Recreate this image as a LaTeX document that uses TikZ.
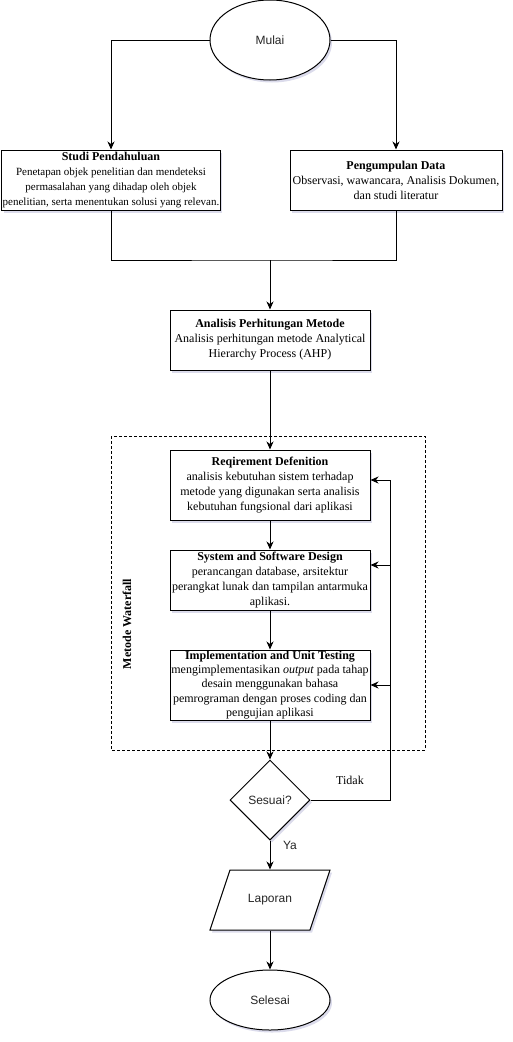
\documentclass[tikz,border=0pt]{standalone}
\usepackage{fontspec}
\setmainfont{Liberation Serif}
\newfontfamily\sansf{Liberation Sans}
\usetikzlibrary{shapes.geometric,arrows.meta,shadows}
\begin{document}
\begin{tikzpicture}[x=1pt,y=-1pt,
  line width=1pt,
  boxshadow/.style={drop shadow={opacity=0.22,shadow xshift=2pt,shadow yshift=-2.5pt,fill=blue!30!gray}},
  box/.style={draw,fill=white,boxshadow,rectangle,inner sep=1pt,align=center,
    font=\fontsize{12}{15}\selectfont},
  term/.style={draw,fill=white,boxshadow,ellipse,inner sep=0pt,
    font=\sansf\fontsize{12}{14}\selectfont,text=black!85},
  arr/.style={-{Stealth[length=8pt,width=7pt,inset=2.5pt]}},
  lbl/.style={inner sep=0pt},
]
\useasboundingbox (0,0) rectangle (512,1042);

% waterfall frame
\draw[dash pattern=on 3pt off 2pt] (111,436) rectangle (425,750);
\node[lbl,rotate=90,font=\bfseries\fontsize{12}{14}\selectfont] (wf) at (127,624) {Metode Waterfall};

% nodes
\node[term,minimum width=120,minimum height=80] (mulai) at (270,40) {Mulai};

\node[box,minimum width=218,minimum height=60,font=\fontsize{11}{15}\selectfont] (studi) at (111,180)
  {\textbf{\fontsize{12}{15}\selectfont Studi Pendahuluan}\\
   Penetapan objek penelitian dan mendeteksi\\
   permasalahan yang dihadap oleh objek\\
   penelitian, serta menentukan solusi yang relevan.};

\node[box,minimum width=212,minimum height=60] (data) at (396,180)
  {\textbf{Pengumpulan Data}\\
   Observasi, wawancara, Analisis Dokumen,\\
   dan studi literatur};

\node[box,minimum width=200,minimum height=60] (ahp) at (270,340)
  {\textbf{Analisis Perhitungan Metode}\\
   Analisis perhitungan metode Analytical\\
   Hierarchy Process (AHP)};

\node[box,minimum width=200,minimum height=70] (req) at (270,485)
  {\textbf{Reqirement Defenition}\\
   analisis kebutuhan sistem terhadap\\
   metode yang digunakan serta analisis\\
   kebutuhan fungsional dari aplikasi};

\node[box,minimum width=200,minimum height=60] (design) at (270,580)
  {\textbf{System and Software Design}\\
   perancangan database, arsitektur\\
   perangkat lunak dan tampilan antarmuka\\
   aplikasi.};

\node[box,minimum width=200,minimum height=70,font=\fontsize{12}{14.2}\selectfont] (impl) at (270,685)
  {\textbf{Implementation and Unit Testing}\\
   mengimplementasikan \textit{output} pada tahap\\
   desain menggunakan bahasa\\
   pemrograman dengan proses coding dan\\
   pengujian aplikasi};

\node[draw,fill=white,boxshadow,diamond,minimum width=80,minimum height=80,inner sep=0pt,
  font=\sansf\fontsize{12}{14}\selectfont,text=black!85] (sesuai) at (270,800) {Sesuai?};

% Laporan: parallelogram drawn around a borderless node
\node[lbl,minimum width=100,minimum height=60] (laporan) at (270,900) {};
\draw[fill=white,boxshadow] (230,870) -- (330,870) -- (310,930) -- (210,930) -- cycle;
\node[lbl,font=\sansf\fontsize{12}{14}\selectfont,text=black!85] (laportext) at (laporan.center) {Laporan};

\node[term,minimum width=120,minimum height=60] (selesai) at (270,1000) {Selesai};

% labels
\node[lbl,font=\fontsize{12}{14}\selectfont] (tidak) at (350,780) {Tidak};
\node[lbl,font=\sansf\fontsize{12}{14}\selectfont,text=black!85] (ya) at (290,845) {Ya};

% connectors
\draw[arr] (mulai.west) -| (studi.north);
\draw[arr] (mulai.east) -| (data.north);
\coordinate (merge) at (270,260);
\draw (studi.south) |- (merge) -| (data.south);
\draw[arr] (merge) -- (ahp.north);
\draw[arr] (ahp.south) -- (req.north);
\draw[arr] (req.south) -- (design.north);
\draw[arr] (design.south) -- (impl.north);
\draw[arr] (impl.south) -- (sesuai.north);
\draw[arr] (sesuai.south) -- (laporan.north);
\draw[arr] (laporan.south) -- (selesai.north);

% feedback loop
\coordinate (lb) at (390,800);
\coordinate (lt) at (390,480);
\coordinate (ld) at (390,565);
\coordinate (li) at (390,685);
\draw (sesuai.east) -- (lb) -- (lt);
\draw[arr] (lt) -- (req.east |- lt);
\draw[arr] (ld) -- (design.east |- ld);
\draw[arr] (li) -- (impl.east |- li);
\end{tikzpicture}
\end{document}
